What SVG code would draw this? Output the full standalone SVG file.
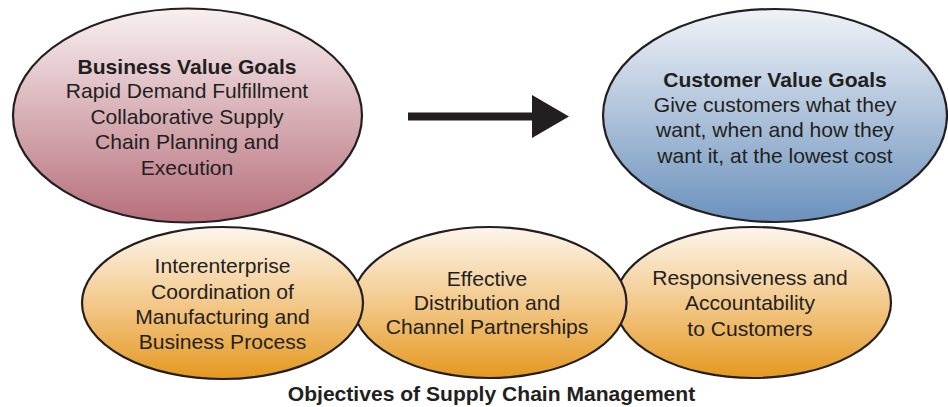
<svg xmlns="http://www.w3.org/2000/svg" width="948" height="407" viewBox="0 0 948 407">
  <defs>
    <linearGradient id="gPink" x1="0" y1="0" x2="0" y2="1">
      <stop offset="0" stop-color="#f8f0f1"/>
      <stop offset="1" stop-color="#b76f7b"/>
    </linearGradient>
    <linearGradient id="gBlue" x1="0" y1="0" x2="0" y2="1">
      <stop offset="0" stop-color="#f0f3f8"/>
      <stop offset="1" stop-color="#6b91bc"/>
    </linearGradient>
    <linearGradient id="gOrange" x1="0" y1="0" x2="0" y2="1">
      <stop offset="0" stop-color="#fdf6ec"/>
      <stop offset="0.5" stop-color="#f3c98b"/>
      <stop offset="1" stop-color="#e4981f"/>
    </linearGradient>
    <style>
      .el { stroke: #231f20; stroke-width: 2.2; }
      text { font-family: "Liberation Sans", Arial, sans-serif; fill: #231f20; text-anchor: middle; font-size: 19.8px; }
      .b { font-weight: bold; }
    </style>
  </defs>
  <rect width="948" height="407" fill="#ffffff"/>

  <g id="node-customer-value">
    <ellipse class="el" cx="775" cy="115.5" rx="172" ry="106.5" fill="url(#gBlue)"/>
    <g transform="translate(775 0) scale(1.065 1)">
      <text class="b" x="0" y="87">Customer Value Goals</text>
      <text x="0" y="112">Give customers what they</text>
      <text x="0" y="137.5">want, when and how they</text>
      <text x="0" y="163">want it, at the lowest cost</text>
    </g>
  </g>

  <g id="node-business-value">
    <ellipse class="el" cx="187.5" cy="115.5" rx="174.5" ry="107" fill="url(#gPink)"/>
    <g transform="translate(187 0) scale(1.065 1)">
      <text class="b" x="0" y="74">Business Value Goals</text>
      <text x="0" y="98.5">Rapid Demand Fulfillment</text>
      <text x="0" y="124">Collaborative Supply</text>
      <text x="0" y="149.5">Chain Planning and</text>
      <text x="0" y="175">Execution</text>
    </g>
  </g>

  <g id="node-responsiveness">
    <ellipse class="el" cx="753" cy="302.5" rx="138" ry="75.5" fill="url(#gOrange)"/>
    <g transform="translate(750 0) scale(1.065 1)">
      <text x="0" y="285">Responsiveness and</text>
      <text x="0" y="310.5">Accountability</text>
      <text x="0" y="336.5">to Customers</text>
    </g>
  </g>

  <g id="node-distribution">
    <ellipse class="el" cx="489.5" cy="302.5" rx="137" ry="75.5" fill="url(#gOrange)"/>
    <g transform="translate(487 0) scale(1.065 1)">
      <text x="0" y="286">Effective</text>
      <text x="0" y="310">Distribution and</text>
      <text x="0" y="334">Channel Partnerships</text>
    </g>
  </g>

  <g id="node-interenterprise">
    <ellipse class="el" cx="222.5" cy="303" rx="140.5" ry="76" fill="url(#gOrange)"/>
    <g transform="translate(222.5 0) scale(1.065 1)">
      <text x="0" y="273.5">Interenterprise</text>
      <text x="0" y="299">Coordination of</text>
      <text x="0" y="324">Manufacturing and</text>
      <text x="0" y="349.5">Business Process</text>
    </g>
  </g>

  <g id="connectors">
    <rect x="408" y="112.5" width="126" height="8" fill="#231f20"/>
    <polygon points="532,95 569,116.5 532,138" fill="#231f20"/>
  </g>

  <g id="caption" transform="translate(491.5 0) scale(1.065 1)">
    <text class="b" x="0" y="401">Objectives of Supply Chain Management</text>
  </g>
</svg>
